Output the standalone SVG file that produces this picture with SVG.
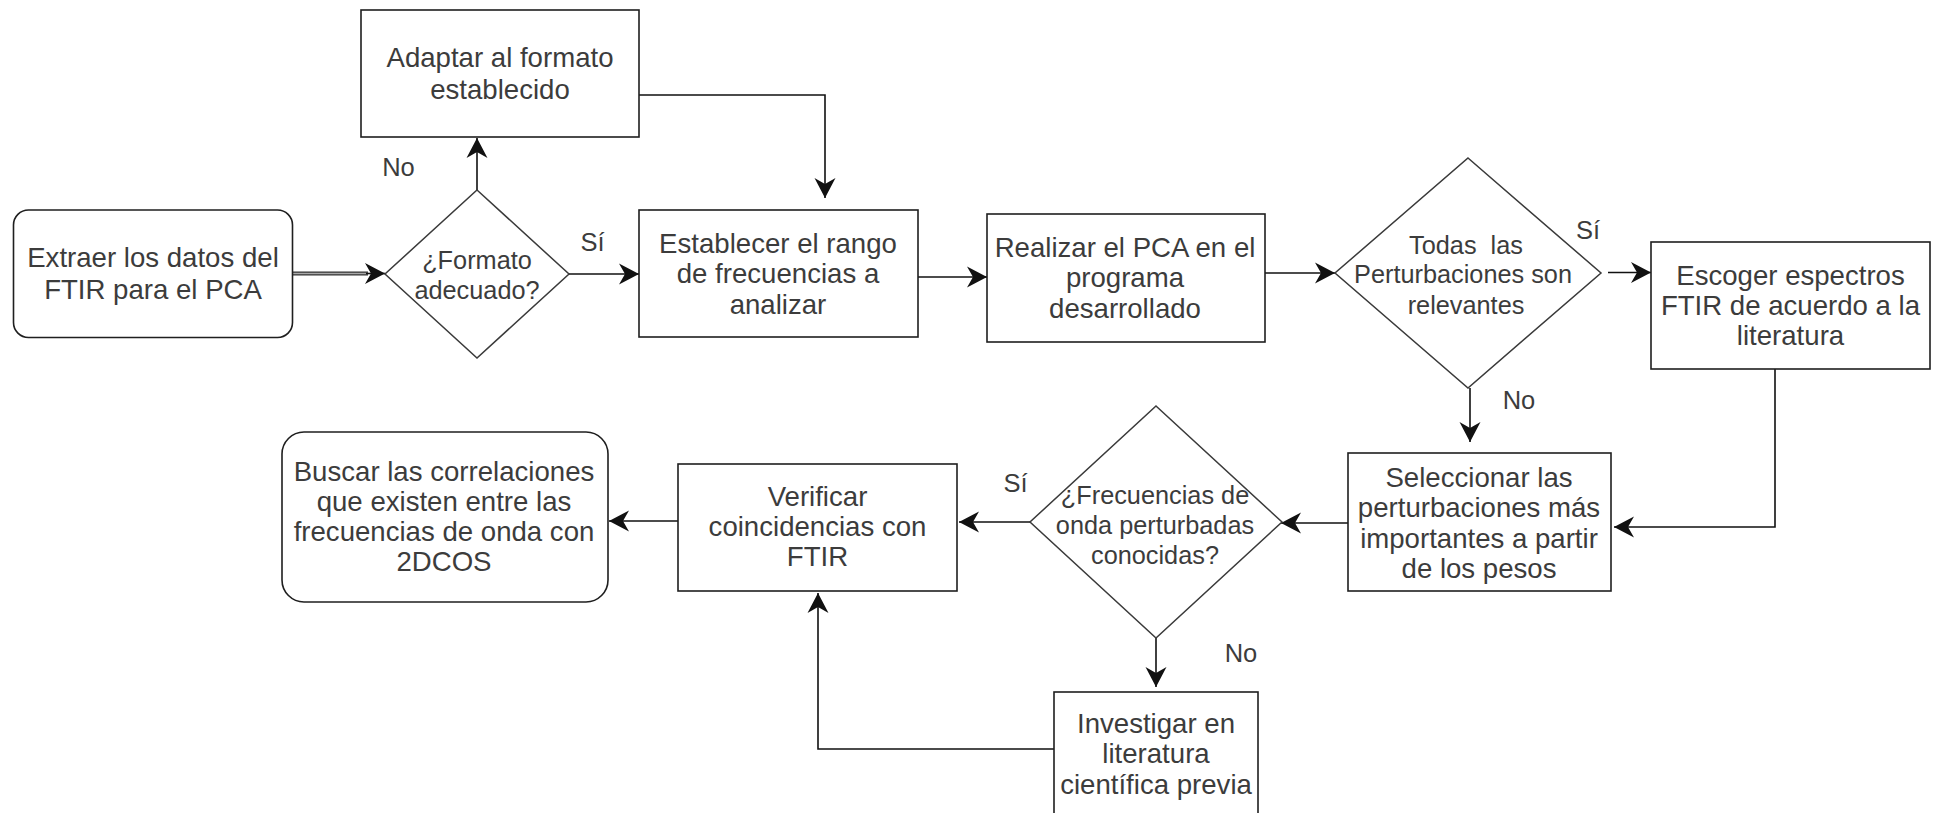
<svg xmlns="http://www.w3.org/2000/svg" width="1939" height="813" viewBox="0 0 1939 813">
  <style>
    .box { fill: #ffffff; stroke: #1f1f1f; stroke-width: 1.6; }
    .dia { fill: #ffffff; stroke: #3a3a3a; stroke-width: 1.5; }
    .t { font-family: "Liberation Sans", Arial, Helvetica, sans-serif; font-size: 27.6px; fill: #3c3c3c; text-anchor: middle; }
    .td { font-family: "Liberation Sans", Arial, Helvetica, sans-serif; font-size: 25.3px; fill: #3c3c3c; text-anchor: middle; }
    .lbl { font-family: "Liberation Sans", Arial, Helvetica, sans-serif; font-size: 25.5px; fill: #3c3c3c; text-anchor: middle; }
    .edge { fill: none; stroke: #111111; stroke-width: 1.6; }
  </style>
  <defs>
    <marker id="arr" markerUnits="userSpaceOnUse" markerWidth="22" markerHeight="24" viewBox="-21 -12 22 24" refX="0" refY="0" orient="auto">
      <path d="M0,0 L-20,-10.5 L-14,0 L-20,10.5 Z" fill="#111111"/>
    </marker>
  </defs>
  <rect width="1939" height="813" fill="#ffffff"/>

  <g id="connectors">
    <line x1="293" y1="273.5" x2="368" y2="273.5" stroke="#333333" stroke-width="4"/>
    <line x1="293" y1="273.5" x2="368" y2="273.5" stroke="#a8a8a8" stroke-width="1.3"/>
    <path class="edge" d="M366,273.5 L385,273.5" marker-end="url(#arr)"/>
    <path class="edge" d="M477,190 L477,138" marker-end="url(#arr)"/>
    <path class="edge" d="M639,95 L825,95 L825,198" marker-end="url(#arr)"/>
    <path class="edge" d="M569,274 L639,274" marker-end="url(#arr)"/>
    <path class="edge" d="M918,277 L987,277" marker-end="url(#arr)"/>
    <path class="edge" d="M1265,273 L1335,273" marker-end="url(#arr)"/>
    <path class="edge" d="M1608,272.5 L1651,272.5" marker-end="url(#arr)"/>
    <path class="edge" d="M1470,388 L1470,442" marker-end="url(#arr)"/>
    <path class="edge" d="M1775,369 L1775,527 L1614,527" marker-end="url(#arr)"/>
    <path class="edge" d="M1348,523 L1281,523" marker-end="url(#arr)"/>
    <path class="edge" d="M1030,522 L959,522" marker-end="url(#arr)"/>
    <path class="edge" d="M1156,638 L1156,687" marker-end="url(#arr)"/>
    <path class="edge" d="M1054,749 L818,749 L818,593" marker-end="url(#arr)"/>
    <path class="edge" d="M678,521 L609,521" marker-end="url(#arr)"/>
  </g>

  <g id="labels">
    <text class="lbl" x="398.5" y="176">No</text>
    <text class="lbl" x="592.5" y="251">Sí</text>
    <text class="lbl" x="1588" y="239">Sí</text>
    <text class="lbl" x="1519" y="408.5">No</text>
    <text class="lbl" x="1015.5" y="492">Sí</text>
    <text class="lbl" x="1241" y="662">No</text>
  </g>

  <g id="extraer">
    <rect class="box" x="13.5" y="210" width="279" height="127.5" rx="15" ry="15"/>
    <text class="t" x="153" y="267">Extraer los datos del</text>
    <text class="t" x="153" y="298.5">FTIR para el PCA</text>
  </g>

  <g id="formato">
    <polygon class="dia" points="477,190 569,274 477,358 385,274"/>
    <text class="td" x="477" y="269">¿Formato</text>
    <text class="td" x="477" y="299">adecuado?</text>
  </g>

  <g id="adaptar">
    <rect class="box" x="361" y="10" width="278" height="127"/>
    <text class="t" x="500" y="67">Adaptar al formato</text>
    <text class="t" x="500" y="98.5">establecido</text>
  </g>

  <g id="establecer">
    <rect class="box" x="639" y="210" width="279" height="127"/>
    <text class="t" x="778" y="252.5">Establecer el rango</text>
    <text class="t" x="778" y="282.5">de frecuencias a</text>
    <text class="t" x="778" y="313.5">analizar</text>
  </g>

  <g id="realizar">
    <rect class="box" x="987" y="214" width="278" height="128"/>
    <text class="t" x="1125" y="256.5">Realizar el PCA en el</text>
    <text class="t" x="1125" y="286.5">programa</text>
    <text class="t" x="1125" y="317.5">desarrollado</text>
  </g>

  <g id="todas">
    <polygon class="dia" points="1468,158 1601,273 1468,388 1335,273"/>
    <text class="td" x="1466" y="254">Todas&#160; las</text>
    <text class="td" x="1463" y="283">Perturbaciones son</text>
    <text class="td" x="1466" y="314">relevantes</text>
  </g>

  <g id="escoger">
    <rect class="box" x="1651" y="242" width="279" height="127"/>
    <text class="t" x="1790.5" y="284.5">Escoger espectros</text>
    <text class="t" x="1790.5" y="314.5">FTIR de acuerdo a la</text>
    <text class="t" x="1790.5" y="344.5">literatura</text>
  </g>

  <g id="seleccionar">
    <rect class="box" x="1348" y="453" width="263" height="138"/>
    <text class="t" x="1479" y="487">Seleccionar las</text>
    <text class="t" x="1479" y="517">perturbaciones más</text>
    <text class="t" x="1479" y="548">importantes a partir</text>
    <text class="t" x="1479" y="578">de los pesos</text>
  </g>

  <g id="frecuencias">
    <polygon class="dia" points="1156,406 1282,522 1156,638 1030,522"/>
    <text class="td" x="1155" y="504">¿Frecuencias de</text>
    <text class="td" x="1155" y="534">onda perturbadas</text>
    <text class="td" x="1155" y="564">conocidas?</text>
  </g>

  <g id="verificar">
    <rect class="box" x="678" y="464" width="279" height="127"/>
    <text class="t" x="817.5" y="506">Verificar</text>
    <text class="t" x="817.5" y="536">coincidencias con</text>
    <text class="t" x="817.5" y="566">FTIR</text>
  </g>

  <g id="buscar">
    <rect class="box" x="282" y="432" width="326" height="170" rx="22" ry="22"/>
    <text class="t" x="444" y="481">Buscar las correlaciones</text>
    <text class="t" x="444" y="511">que existen entre las</text>
    <text class="t" x="444" y="541">frecuencias de onda con</text>
    <text class="t" x="444" y="571">2DCOS</text>
  </g>

  <g id="investigar">
    <rect class="box" x="1054" y="692" width="204" height="150"/>
    <text class="t" x="1156" y="733">Investigar en</text>
    <text class="t" x="1156" y="762.5">literatura</text>
    <text class="t" x="1156" y="793.5">científica previa</text>
  </g>
</svg>
